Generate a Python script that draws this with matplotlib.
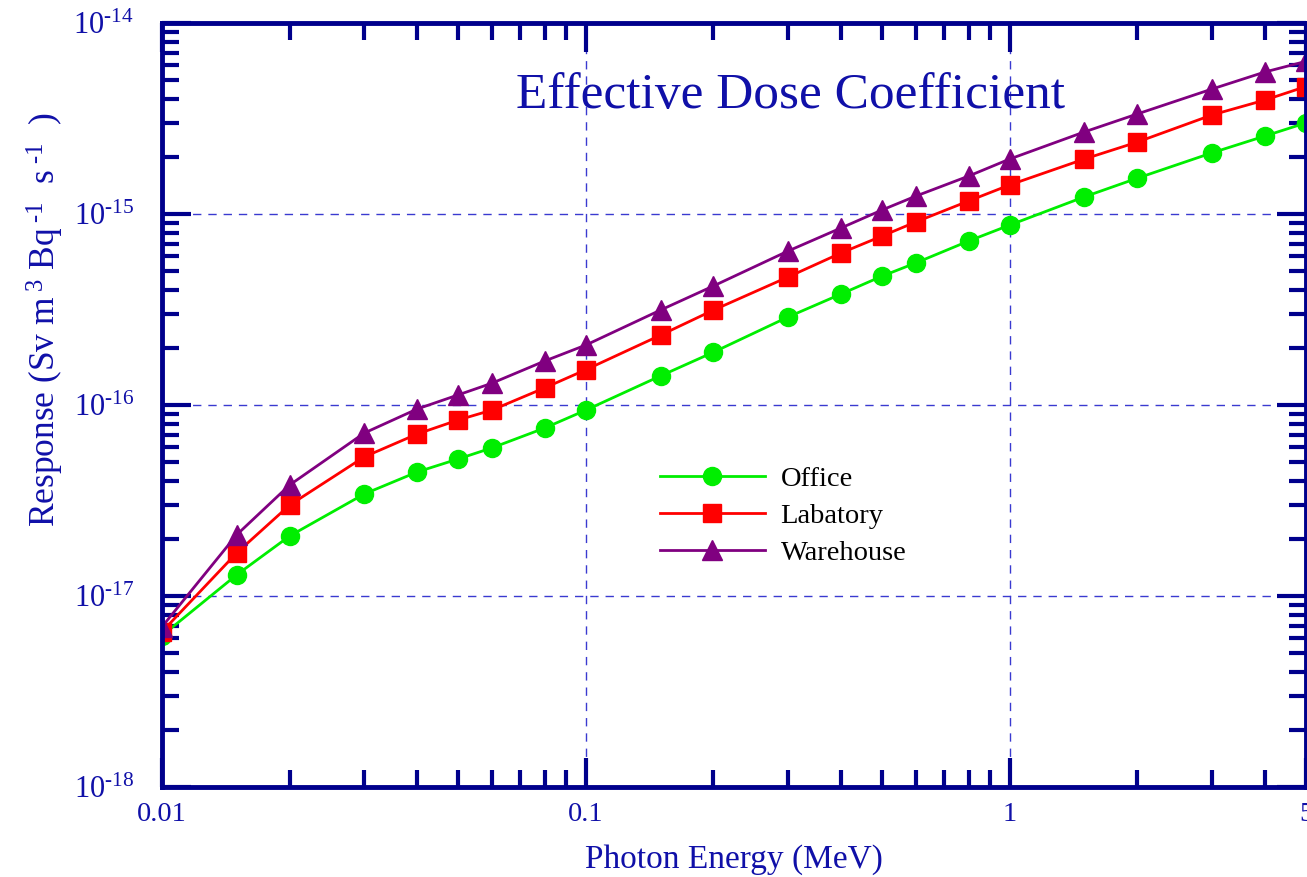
import matplotlib.pyplot as plt
from matplotlib.ticker import FixedLocator, LogLocator, NullFormatter

plt.rcParams['font.family'] = ['Liberation Serif', 'DejaVu Serif']
plt.rcParams['mathtext.fontset'] = 'custom'
plt.rcParams['mathtext.rm'] = 'Liberation Serif'
plt.rcParams['mathtext.it'] = 'Liberation Serif'

energy = [0.01, 0.015, 0.02, 0.03, 0.04, 0.05, 0.06, 0.08, 0.1, 0.15, 0.2,
          0.3, 0.4, 0.5, 0.6, 0.8, 1, 1.5, 2, 3, 4, 5]

office = [6.2e-18, 1.29e-17, 2.06e-17, 3.42e-17, 4.46e-17, 5.22e-17, 5.96e-17,
          7.58e-17, 9.4e-17, 1.42e-16, 1.89e-16, 2.89e-16, 3.81e-16, 4.73e-16,
          5.54e-16, 7.22e-16, 8.75e-16, 1.23e-15, 1.54e-15, 2.09e-15, 2.56e-15,
          3.0e-15]
labatory = [6.5e-18, 1.68e-17, 2.99e-17, 5.35e-17, 7.05e-17, 8.35e-17, 9.4e-17,
            1.23e-16, 1.53e-16, 2.32e-16, 3.14e-16, 4.68e-16, 6.25e-16, 7.67e-16,
            9.08e-16, 1.17e-15, 1.42e-15, 1.94e-15, 2.38e-15, 3.30e-15, 3.95e-15,
            4.65e-15]
warehouse = [6.9e-18, 2.09e-17, 3.81e-17, 7.13e-17, 9.53e-17, 1.13e-16, 1.30e-16,
             1.70e-16, 2.06e-16, 3.14e-16, 4.20e-16, 6.40e-16, 8.45e-16, 1.05e-15,
             1.24e-15, 1.58e-15, 1.94e-15, 2.69e-15, 3.34e-15, 4.51e-15, 5.54e-15,
             6.3e-15]

xtick_vals = [0.01, 0.1, 1, 5]
xtick_labels = ['0.01', '0.1', '1', '5']
ytick_vals = [1e-18, 1e-17, 1e-16, 1e-15, 1e-14]
ytick_labels = [r'$\mathregular{10^{\text{-18}}}$', r'$\mathregular{10^{\text{-17}}}$',
                r'$\mathregular{10^{\text{-16}}}$', r'$\mathregular{10^{\text{-15}}}$',
                r'$\mathregular{10^{\text{-14}}}$']

navy = '#1010a8'
axcol = '#00008c'

fig = plt.figure(figsize=(13.07, 8.77), dpi=100)
ax = fig.add_axes([162 / 1307, 90 / 877, 1144 / 1307, 764 / 877])

ax.plot(energy, office, color='#00ee00', lw=2, marker='o', ms=13, label='Office')
ax.plot(energy, labatory, color='#ff0000', lw=2, marker='s', ms=13, label='Labatory')
ax.plot(energy, warehouse, color='#800080', lw=2, marker='^', ms=14, label='Warehouse')

ax.set_xscale('log')
ax.set_yscale('log')
ax.set_xlim(0.01, 5)
ax.set_ylim(1e-18, 1e-14)

ax.xaxis.set_major_locator(FixedLocator(xtick_vals))
ax.set_xticklabels(xtick_labels)
ax.xaxis.set_minor_locator(LogLocator(base=10, subs=range(2, 10)))
ax.xaxis.set_minor_formatter(NullFormatter())
ax.yaxis.set_major_locator(FixedLocator(ytick_vals))
ax.set_yticklabels(ytick_labels)
ax.yaxis.set_minor_locator(LogLocator(base=10, subs=range(2, 10)))
ax.yaxis.set_minor_formatter(NullFormatter())

ax.tick_params(which='both', direction='in', top=True, right=True,
               color=axcol, labelcolor=navy)
ax.tick_params(which='major', length=21, width=3)
ax.tick_params(which='minor', length=12, width=3)
ax.tick_params(axis='x', pad=11, labelsize=20.5)
ax.tick_params(axis='y', pad=20, labelsize=22)

for s in ax.spines.values():
    s.set_color(axcol)
    s.set_linewidth(3.5)

ax.grid(which='major', color='#3a3ad0', lw=1, linestyle=(0, (6, 5)))

ax.set_xlabel('Photon Energy (MeV)', fontsize=24, color=navy, labelpad=12)
ax.set_ylabel(r'Response (Sv m$^{\;3}$ Bq$^{\;\text{-1}}$  s$^{\;\text{-1}}$  )',
              fontsize=25.5, color=navy)
ax.yaxis.set_label_coords(-96 / 1144, 0.612)

ax.text(0.549, 0.905, 'Effective Dose Coefficient', transform=ax.transAxes,
        fontsize=37, color=navy, ha='center', va='center')

ax.legend(loc='upper left', bbox_to_anchor=(634 / 1307, 1 - 440 / 877),
          bbox_transform=fig.transFigure, frameon=False, fontsize=20.5,
          handlelength=3.7, handletextpad=0.55, labelspacing=0.4)

fig.savefig('out.png', dpi=100)
